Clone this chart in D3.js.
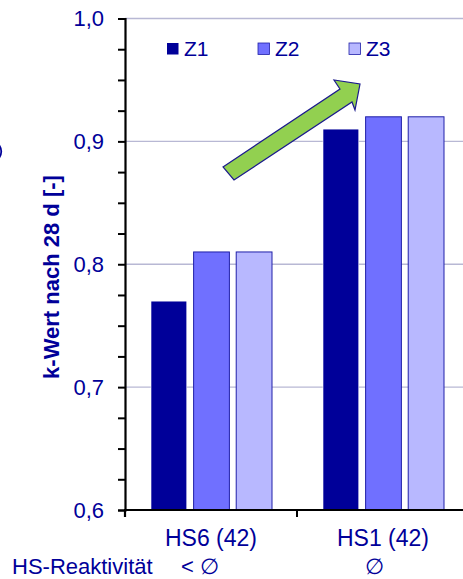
<!DOCTYPE html>
<html>
<head>
<meta charset="utf-8">
<script src="https://cdn.jsdelivr.net/npm/d3@7"></script>
<style>
  html, body { margin: 0; padding: 0; background: #fff; }
  svg { display: block; font-family: Arial, "Liberation Sans", sans-serif; }
</style>
</head>
<body>
<svg id="chart" width="463" height="579"></svg>
<script>
// Cement types on the x axis and the three series Z1..Z3
const categories = ["HS6 (42)", "HS1 (42)"];
const reactivity = ["< \u2205", "\u2205"];
const seriesNames = ["Z1", "Z2", "Z3"];
const z1 = [0.77, 0.91];
const z2 = [0.81, 0.92];
const z3 = [0.81, 0.92];
const yTicks = [0.6, 0.7, 0.8, 0.9, 1.0];
const yTitle = "k-Wert nach 28 d [-]";
const rowLabel = "HS-Reaktivität";

const colors = { Z1: "#000099", Z2: "#7070ff", Z3: "#b8b8ff" };
const textBlue = "#000099";

const svg = d3.select("#chart");
const plot = { left: 125, right: 469, top: 18.5, bottom: 510 };

const y = d3.scaleLinear().domain([0.6, 1.0]).range([plot.bottom, plot.top]);
const x0 = d3.scaleBand().domain(categories).range([plot.left, plot.right]).paddingInner(0).paddingOuter(0);
const x1 = d3.scaleBand().domain(seriesNames).range([26, x0.bandwidth() - 25]).paddingInner(0.16).paddingOuter(0);

const rows = categories.map((c, i) => ({ cat: c, Z1: z1[i], Z2: z2[i], Z3: z3[i] }));

// horizontal gridlines
svg.append("g").selectAll("line")
  .data(yTicks.filter(t => t > 0.6))
  .join("line")
  .attr("x1", plot.left).attr("x2", plot.right)
  .attr("y1", d => y(d)).attr("y2", d => y(d))
  .attr("stroke", "#b8b8d4").attr("stroke-width", 1.3);

// bars
const groups = svg.append("g").selectAll("g")
  .data(rows).join("g")
  .attr("transform", d => `translate(${x0(d.cat)},0)`);
groups.selectAll("rect")
  .data(d => seriesNames.map(k => ({ key: k, value: d[k] })))
  .join("rect")
  .attr("x", d => x1(d.key))
  .attr("width", x1.bandwidth())
  .attr("y", d => y(d.value))
  .attr("height", d => y(0.6) - y(d.value))
  .attr("fill", d => colors[d.key])
  .attr("stroke", d => d.key === "Z1" ? "#ffffff" : "#2020a8")
  .attr("stroke-width", d => d.key === "Z1" ? 0.6 : 1);

// y axis with minor ticks every 0.025
const yAxis = d3.axisLeft(y)
  .tickValues(d3.range(0.6, 1.0001, 0.025))
  .tickSize(7)
  .tickFormat("");
const gy = svg.append("g").attr("transform", `translate(${plot.left},0)`).call(yAxis);
gy.select(".domain").attr("stroke", "#000").attr("stroke-width", 2.2);
gy.selectAll(".tick line").attr("stroke", "#000").attr("stroke-width", 2);

// y tick labels
svg.append("g").selectAll("text")
  .data(yTicks).join("text")
  .attr("x", 104).attr("y", d => y(d))
  .attr("dy", "0.36em")
  .attr("text-anchor", "end")
  .attr("font-size", 22).attr("fill", textBlue)
  .text(d => d.toFixed(1).replace(".", ","));

// x axis
const xAxis = d3.axisBottom(x0).tickSize(7).tickFormat("");
const gx = svg.append("g").attr("transform", `translate(0,${plot.bottom})`).call(xAxis);
gx.select(".domain").attr("stroke", "#000").attr("stroke-width", 2.2)
  .attr("d", `M${plot.left - 1},0H${plot.right}`);
gx.selectAll(".tick").remove();
gx.selectAll(".cattick")
  .data(categories.slice(1)).join("line")
  .attr("x1", d => x0(d)).attr("x2", d => x0(d))
  .attr("y1", 0).attr("y2", 7)
  .attr("stroke", "#000").attr("stroke-width", 2);
gx.append("line").attr("x1", plot.left).attr("x2", plot.left)
  .attr("y1", 0).attr("y2", 7).attr("stroke", "#000").attr("stroke-width", 2.2);

// category labels
svg.append("g").selectAll("text")
  .data(categories).join("text")
  .attr("x", d => x0(d) + x0.bandwidth() / 2)
  .attr("y", 546)
  .attr("text-anchor", "middle")
  .attr("font-size", 23).attr("fill", textBlue)
  .text(d => d);

// reactivity row
svg.append("text").attr("x", 12).attr("y", 573.5)
  .attr("font-size", 22).attr("fill", textBlue).text(rowLabel);
svg.append("g").selectAll("text")
  .data(reactivity).join("text")
  .attr("x", (d, i) => x0(categories[i]) + x0.bandwidth() / 2 + (i === 0 ? -11 : -9))
  .attr("y", 573.5)
  .attr("text-anchor", "middle")
  .attr("font-size", 22).attr("fill", textBlue)
  .text(d => d);

// y axis title
svg.append("text")
  .attr("transform", `translate(59,277) rotate(-90)`)
  .attr("text-anchor", "middle")
  .attr("font-size", 22).attr("font-weight", "bold").attr("fill", textBlue)
  .text(yTitle);

// edge of a bracket clipped at the left border
svg.append("path")
  .attr("d", "M-1,145 Q3.5,151.5 -1,158")
  .attr("fill", "none")
  .attr("stroke", textBlue).attr("stroke-width", 1.8);

// legend
const legendX = [167, 258, 349];
const legend = svg.append("g").selectAll("g")
  .data(seriesNames).join("g")
  .attr("transform", (d, i) => `translate(${legendX[i]},43)`);
legend.append("rect")
  .attr("width", 11.5).attr("height", 11.5)
  .attr("fill", d => colors[d])
  .attr("stroke", d => d === "Z1" ? "none" : "#2020a8").attr("stroke-width", 0.8);
legend.append("text")
  .attr("x", 17).attr("y", 13)
  .attr("font-size", 21).attr("fill", textBlue)
  .text(d => d);

// green trend arrow
const arrowPts = [[223, 167], [340, 89], [334, 80], [360, 84], [355, 110], [352, 102], [234, 180]];
svg.append("path")
  .attr("d", d3.line()(arrowPts) + "Z")
  .attr("fill", "#92d050")
  .attr("stroke", "#1a1a8c").attr("stroke-width", 1.2)
  .attr("stroke-linejoin", "miter");
</script>
</body>
</html>
